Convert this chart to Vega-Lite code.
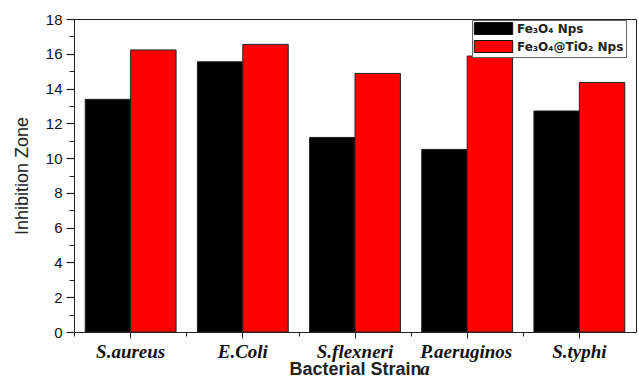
{
  "$schema": "https://vega.github.io/schema/vega-lite/v6.json",
  "width": 562,
  "height": 313,
  "autosize": {"type": "none"},
  "padding": {"left": 74, "top": 19, "right": 3, "bottom": 46},
  "background": "white",
  "config": {
    "view": {"stroke": "#222", "strokeWidth": 1},
    "axis": {"domainColor": "#222", "tickColor": "#222", "labelColor": "#111", "titleColor": "#222", "grid": false}
  },
  "data": {
    "values": [
      {"strain": "S.aureus", "sample": "Fe₃O₄ Nps", "zone": 13.38},
      {"strain": "S.aureus", "sample": "Fe₃O₄@TiO₂ Nps", "zone": 16.22},
      {"strain": "E.Coli", "sample": "Fe₃O₄ Nps", "zone": 15.54},
      {"strain": "E.Coli", "sample": "Fe₃O₄@TiO₂ Nps", "zone": 16.54},
      {"strain": "S.flexneri", "sample": "Fe₃O₄ Nps", "zone": 11.19},
      {"strain": "S.flexneri", "sample": "Fe₃O₄@TiO₂ Nps", "zone": 14.87},
      {"strain": "P.aeruginosa", "sample": "Fe₃O₄ Nps", "zone": 10.5},
      {"strain": "P.aeruginosa", "sample": "Fe₃O₄@TiO₂ Nps", "zone": 15.87},
      {"strain": "S.typhi", "sample": "Fe₃O₄ Nps", "zone": 12.71},
      {"strain": "S.typhi", "sample": "Fe₃O₄@TiO₂ Nps", "zone": 14.35}
    ]
  },
  "layer": [
    {
      "mark": {"type": "bar", "stroke": "#222", "strokeWidth": 1},
      "encoding": {
        "x": {
          "field": "strain", "type": "nominal", "sort": null,
          "scale": {"paddingInner": 0.19, "paddingOuter": 0.1},
          "axis": {
            "title": "Bacterial Strain",
            "labelAngle": 0,
            "labelFont": "Liberation Serif",
            "labelFontStyle": "italic",
            "labelFontWeight": "bold",
            "labelFontSize": 19,
            "labelPadding": 4,
            "labelLineHeight": 17,
            "tickSize": 6,
            "labelExpr": "datum.value == 'P.aeruginosa' ? ['P.aeruginos', 'a'] : datum.label",
            "labelAlign": {"condition": {"test": "datum.value == 'P.aeruginosa'", "value": "left"}, "value": "center"},
            "labelOffset": {"condition": {"test": "datum.value == 'P.aeruginosa'", "value": -47}, "value": 0},
            "titleFont": "Liberation Sans",
            "titleFontWeight": "bold",
            "titleFontSize": 18,
            "titleY": 42,
            "titleBaseline": "alphabetic"
          }
        },
        "xOffset": {"field": "sample", "type": "nominal", "sort": null, "scale": {"paddingInner": 0, "paddingOuter": 0}},
        "y": {
          "field": "zone", "type": "quantitative",
          "scale": {"domain": [0, 18], "nice": false},
          "axis": {
            "title": "Inhibition Zone",
            "values": [0,2,4,6,8,10,12,14,16,18],
            "tickSize": 8,
            "tickWidth": 1.2,
            "labelFont": "Liberation Sans",
            "labelFontSize": 15,
            "labelPadding": 4,
            "titleFont": "Liberation Sans",
            "titleFontSize": 18,
            "titleFontWeight": "normal",
            "titlePadding": 14
          }
        },
        "color": {
          "field": "sample", "type": "nominal", "sort": null,
          "scale": {"range": ["#000000", "#ff0000"]},
          "legend": {
            "title": null,
            "orient": "none",
            "legendX": 398,
            "legendY": 1,
            "direction": "vertical",
            "strokeColor": "#666",
            "fillColor": "white",
            "padding": 2,
            "symbolType": "M-3.2,-1L3.2,-1L3.2,1L-3.2,1Z",
            "symbolSize": 144,
            "symbolOffset": 13,
            "symbolStrokeColor": "#111",
            "symbolStrokeWidth": 1,
            "symbolOpacity": 1,
            "labelFont": "DejaVu Sans",
            "labelFontWeight": "bold",
            "labelFontSize": 12,
            "labelColor": "#222",
            "rowPadding": 1,
            "labelOffset": 17
          }
        }
      }
    },
    {
      "mark": {"type": "bar", "opacity": 0},
      "encoding": {
        "x": {
          "field": "strain", "type": "nominal", "sort": null,
          "axis": {"orient": "bottom", "title": null, "labels": false, "domain": false, "tickSize": 4, "bandPosition": -0.115}
        },
        "y": {
          "field": "zone", "type": "quantitative",
          "axis": {"orient": "left", "title": null, "labels": false, "domain": false, "tickSize": 5, "values": [1,3,5,7,9,11,13,15,17]}
        }
      }
    }
  ],
  "resolve": {"axis": {"x": "independent", "y": "independent"}}
}
